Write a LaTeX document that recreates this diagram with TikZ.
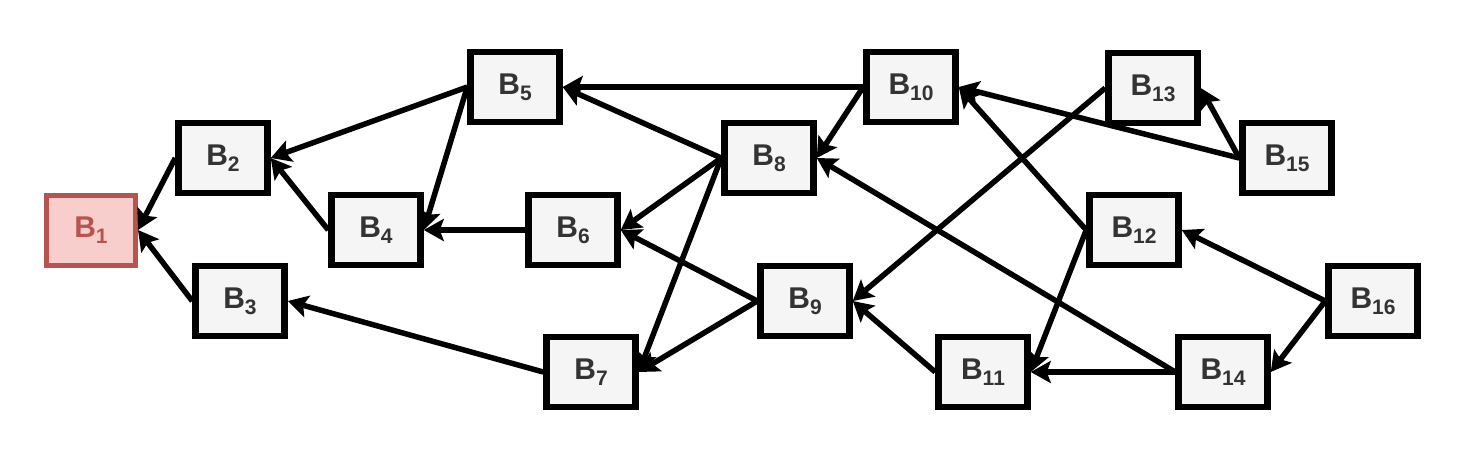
\documentclass[tikz,border=0pt]{standalone}
\usepackage{fontspec}
\setmainfont{Liberation Sans}
\usetikzlibrary{arrows.meta}
\definecolor{boxfill}{HTML}{F5F5F5}
\definecolor{txt}{HTML}{333333}
\definecolor{redfill}{HTML}{F8CECC}
\definecolor{redline}{HTML}{B85450}
\newcommand{\blab}[1]{\fontsize{30}{32}\selectfont\bfseries B\raisebox{-6pt}{\fontsize{21}{21}\selectfont #1}}
\tikzset{
  blk/.style={draw=black, fill=boxfill, line width=6.5pt, minimum width=89pt, minimum height=70pt, inner sep=0pt, text=txt},
  redblk/.style={blk, draw=redline, fill=redfill, line width=5pt, text=redline},
  edge/.style={line width=5.5pt, -{Stealth[length=20pt,width=22pt,inset=4pt]}}
}
\begin{document}
\begin{tikzpicture}[x=1pt,y=-1pt]
\useasboundingbox (0,0) rectangle (1477,451);
\node[redblk] (b1) at (91,230) {\blab{1}};
\node[blk] (b2) at (223,158) {\blab{2}};
\node[blk] (b3) at (240,301) {\blab{3}};
\node[blk] (b4) at (376,230) {\blab{4}};
\node[blk] (b5) at (515,87) {\blab{5}};
\node[blk] (b6) at (573,230) {\blab{6}};
\node[blk] (b7) at (591,372) {\blab{7}};
\node[blk] (b8) at (769,158) {\blab{8}};
\node[blk] (b9) at (805,301) {\blab{9}};
\node[blk] (b10) at (911,87) {\blab{10}};
\node[blk] (b11) at (983,372) {\blab{11}};
\node[blk] (b12) at (1134,230) {\blab{12}};
\node[blk] (b13) at (1153,88) {\blab{13}};
\node[blk] (b14) at (1223,372) {\blab{14}};
\node[blk] (b15) at (1287,158) {\blab{15}};
\node[blk] (b16) at (1373,301) {\blab{16}};
\foreach \s/\t in {b2/b1,b3/b1,b4/b2,b5/b2,b5/b4,b6/b4,b7/b3,b8/b5,b8/b6,b8/b7,b9/b6,b9/b7,b10/b5,b10/b8,b11/b9,b12/b10,b12/b11,b13/b9,b14/b8,b14/b11,b15/b10,b15/b13,b16/b12,b16/b14}
  \draw[edge] (\s.west) -- (\t.east);
\end{tikzpicture}
\end{document}
